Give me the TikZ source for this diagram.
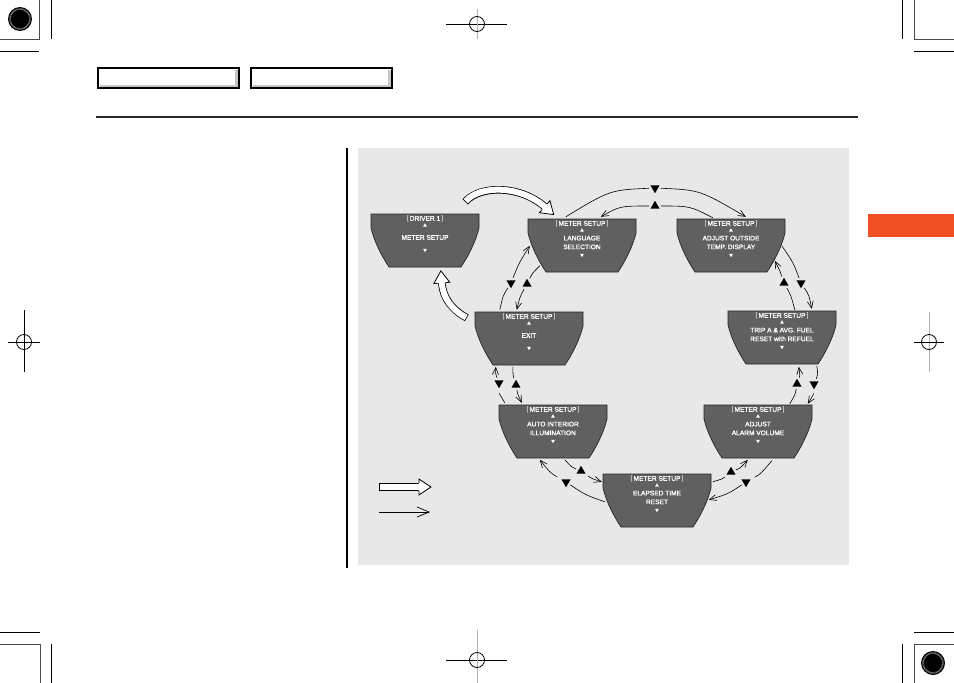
\documentclass[tikz,border=0pt]{standalone}
\usepackage{fontspec}
\newfontfamily\dispfont{Liberation Sans}[FakeBold=1.6]
\newfontfamily\dispfontreg{Liberation Sans}
\usetikzlibrary{shapes.geometric,arrows.meta,calc,decorations.markings}
\definecolor{panel}{RGB}{232,232,232}
\definecolor{dispgray}{RGB}{96,96,96}
\definecolor{tabcol}{RGB}{240,78,35}
\tikzset{
 dispbody/.style={fill=dispgray, draw=black!85, line width=0.7pt},
 dispframe/.style={rectangle, minimum width=108pt, minimum height=53pt, inner sep=0pt, draw=none},
 disptext/.style={text=white, font=\dispfont\fontsize{6.6}{8.8}\selectfont, inner sep=0pt, align=center},
 dispup/.style={regular polygon, regular polygon sides=3, fill=white, minimum size=4.4pt, inner sep=0pt},
 dispdown/.style={dispup, regular polygon rotate=180},
 ringup/.style={regular polygon, regular polygon sides=3, fill=black, minimum size=10.5pt, inner sep=0pt, outer sep=2.5pt},
 ringdown/.style={ringup, regular polygon rotate=180},
 ring/.style={line width=0.6pt, black},
 ringarrow/.style={ring, -{Straight Barb[length=7pt,width=6pt]}},
 legendarrow/.style={line width=0.7pt, -{Straight Barb[length=12pt,width=10pt]}},
 regmark/.style={line width=0.8pt, black},
}
\newcommand\msetup{{\dispfontreg[}\,METER SETUP\,{\dispfontreg]}}
\newcommand\mtrdisp[5]{%
 \begin{scope}[shift={(#2,#3)}]
  \draw[dispbody] (0,0) -- (108,0) -- (108,14) .. controls (104,30) and (96,44) .. (90,53) -- (18,53) .. controls (12,44) and (4,30) .. (0,14) -- cycle;
  \node[dispframe] (#1) at (54,26.5) {};
  \node[disptext] (#1-h) at (54,5) {#4};
  \node[dispup] (#1-u) at (54,11.5) {};
  \node[disptext] (#1-b) at (54,23.5) {#5};
  \node[dispdown] (#1-d) at (54,36) {};
 \end{scope}}
\newcommand\hollowarrow[1]{%
 \draw[line width=7.6pt, black] #1;
 \draw[line width=6pt, white, shorten <=0.8pt] #1;
 \path[decoration={markings, mark=at position 0.998 with {\fill[white] (0,-8) -- (12,0) -- (0,8) -- cycle; \draw[line width=0.8pt, black, line join=miter] (0,-3.8) -- (0,-8) -- (12,0) -- (0,8) -- (0,3.8);}}, decorate] #1;
}
\newcommand\sunburst[1]{%
 \fill[black] #1 circle (12);
 \draw[gray!70, line width=1.5pt, dash pattern=on 0.5pt off 0.7pt] #1 circle (10);
 \fill[black] #1 circle (7);
}
\begin{document}
\begin{tikzpicture}[x=1pt,y=-1pt]
\useasboundingbox (0,0) rectangle (954,683);
\fill[white] (0,0) rectangle (954,683);

% registration marks
\draw[regmark, black!70] (0,39) -- (39,39) -- (39,0);
\draw[regmark] (51,0) -- (51,39);
\draw[regmark] (0,51) -- (39,51);
\sunburst{(20,19)}
\draw[regmark] (902,0) -- (902,39);
\draw[regmark, black!70] (954,39) -- (914,39) -- (914,0);
\draw[regmark] (914,51) -- (954,51);
\draw[regmark] (0,632) -- (40,632);
\draw[regmark, black!70] (0,644) -- (40,644) -- (40,683);
\draw[regmark] (51,644) -- (51,683);
\draw[regmark] (914,632) -- (954,632);
\draw[regmark, black!70] (954,644) -- (914,644) -- (914,683);
\draw[regmark] (902,644) -- (902,683);
\sunburst{(933,663)}
% crosshairs
\draw[regmark] (446,24) -- (507,24);
\draw[regmark, gray!60] (477,9) -- (477,39);
\draw[regmark] (477,24) circle (7.5);
\draw[regmark] (24,310) -- (24,372);
\draw[regmark] (8,342) -- (40,342);
\draw[regmark] (24,342) circle (7.5);
\draw[regmark, gray!60] (929,312) -- (929,372);
\draw[regmark] (914,342) -- (944,342);
\draw[regmark] (929,342) circle (7.5);
\draw[regmark] (446,660) -- (507,660);
\draw[regmark, gray!60] (477,630) -- (477,683);
\draw[regmark] (477,660) circle (7.5);

% header
\draw[line width=1.6pt] (98,68) rectangle (239,88);
\fill[gray!45] (235,69.5) rectangle (237.6,86.6);
\fill[gray!45] (99.5,84.5) rectangle (237.6,86.6);
\draw[line width=1.6pt] (251,68) rectangle (392,88);
\fill[gray!45] (388,69.5) rectangle (390.6,86.6);
\fill[gray!45] (252.5,84.5) rectangle (390.6,86.6);
\draw[line width=1.2pt, black!85] (96,117) -- (858,117);
\fill[tabcol] (868,214) rectangle (954,237);

% panel
\fill[panel] (358,148) rectangle (849,565);
\draw[line width=1.6pt] (347,148) -- (347,568);

% displays
\mtrdisp{drv}{371}{214}{{\dispfontreg[}\,DRIVER 1\,{\dispfontreg]}}{METER SETUP}
\mtrdisp{lang}{528}{219}{\msetup}{LANGUAGE\\SELECTION}
\mtrdisp{temp}{677}{219}{\msetup}{ADJUST OUTSIDE\\TEMP. DISPLAY}
\mtrdisp{trip}{728}{311}{\msetup}{TRIP A \& AVG. FUEL\\RESET with REFUEL}
\mtrdisp{alarm}{704}{405}{\msetup}{ADJUST\\ALARM VOLUME}
\mtrdisp{elap}{603}{474}{\msetup}{ELAPSED TIME\\RESET}
\mtrdisp{auto}{499}{405}{\msetup}{AUTO INTERIOR\\ILLUMINATION}
\mtrdisp{exit}{475}{312}{\msetup}{EXIT}

% hollow arrows
\coordinate (h1s) at ($(drv.north east)+(-14,-12)$);
\coordinate (h1e) at ($(lang.north west)+(17,-12)$);
\hollowarrow{(h1s) .. controls (480,185) and (520,185) .. (h1e)}
\coordinate (h2s) at ($(exit.north west)+(-8,6)$);
\coordinate (h2e) at ($(drv.north west)+(71,69)$);
\hollowarrow{(h2s) .. controls (452,310) and (443,298) .. (h2e)}

% ring connectors
\coordinate (c1s) at ($(lang.north west)+(38,-2)$);
\coordinate (c1e) at ($(temp.north west)+(69,-2)$);
\node[ringdown] (t1) at (655,188) {};
\draw[ring] (c1s) .. controls (610,190) .. (t1);
\draw[ringarrow] (t1) .. controls (700,190) .. (c1e);

\coordinate (c2s) at ($(temp.north west)+(36,-1)$);
\coordinate (c2e) at ($(lang.north west)+(73,-2)$);
\node[ringup] (t2) at (655,206) {};
\draw[ring] (c2s) .. controls (690,206) .. (t2);
\draw[ringarrow] (t2) .. controls (620,206) .. (c2e);

\coordinate (c3s) at ($(temp.north west)+(105,27)$);
\coordinate (c3e) at ($(trip.north west)+(84,-2)$);
\node[ringdown] (t3) at (801,283) {};
\draw[ring] (c3s) .. controls (793,262) .. (t3);
\draw[ringarrow] (t3) .. controls (809,295) .. (c3e);

\coordinate (c4s) at ($(trip.north west)+(67,-1)$);
\coordinate (c4e) at ($(temp.north west)+(98,42)$);
\node[ringup] (t4) at (784,283) {};
\draw[ring] (c4s) .. controls (791,295.5) .. (t4);
\draw[ringarrow] (t4) .. controls (780,271) .. (c4e);

\coordinate (c5s) at ($(trip.north west)+(89,55)$);
\coordinate (c5e) at ($(alarm.north west)+(104,-1)$);
\node[ringdown] (t5) at (814,384) {};
\draw[ring] (c5s) .. controls (818,375) .. (t5);
\draw[ringarrow] (t5) .. controls (813.5,394.5) .. (c5e);

\coordinate (c6s) at ($(alarm.north west)+(86,-1)$);
\coordinate (c6e) at ($(trip.north west)+(71,56)$);
\node[ringup] (t6) at (797,384) {};
\draw[ring] (c6s) .. controls (795.5,394) .. (t6);
\draw[ringarrow] (t6) .. controls (800,375.5) .. (c6e);

\coordinate (c7s) at ($(alarm.north west)+(68,56)$);
\coordinate (c7e) at ($(elap.north west)+(106,26)$);
\node[ringdown] (t7) at (746,482) {};
\draw[ring] (c7s) .. controls (760.5,474) .. (t7);
\draw[ringarrow] (t7) .. controls (728,494) .. (c7e);

\coordinate (c8s) at ($(elap.north west)+(110,8)$);
\coordinate (c8e) at ($(alarm.north west)+(44,55)$);
\node[ringup] (t8) at (731,472) {};
\draw[ring] (c8s) .. controls (723,478.7) .. (t8);
\draw[ringarrow] (t8) .. controls (740.5,468) .. (c8e);

\coordinate (c9s) at ($(elap.north west)+(2,28)$);
\coordinate (c9e) at ($(auto.north west)+(41,55)$);
\node[ringdown] (t9) at (566,482) {};
\draw[ring] (c9s) .. controls (585.5,495) .. (t9);
\draw[ringarrow] (t9) .. controls (550.5,473) .. (c9e);

\coordinate (c10s) at ($(auto.north west)+(66,55)$);
\coordinate (c10e) at ($(elap.north west)+(-1,8)$);
\node[ringup] (t10) at (581,471) {};
\draw[ring] (c10s) .. controls (572,467.5) .. (t10);
\draw[ringarrow] (t10) .. controls (591.5,478.5) .. (c10e);

\coordinate (c11s) at ($(auto.north west)+(6,-2)$);
\coordinate (c11e) at ($(exit.north west)+(21,55)$);
\node[ringdown] (t11) at (499,383) {};
\draw[ring] (c11s) .. controls (499,393) .. (t11);
\draw[ringarrow] (t11) .. controls (495.5,374) .. (c11e);

\coordinate (c12s) at ($(exit.north west)+(38,55)$);
\coordinate (c12e) at ($(auto.north west)+(23,-2)$);
\node[ringup] (t12) at (516,385) {};
\draw[ring] (c12s) .. controls (513,375.5) .. (t12);
\draw[ringarrow] (t12) .. controls (517.5,394) .. (c12e);

\coordinate (c13s) at ($(exit.north west)+(25,-2)$);
\coordinate (c13e) at ($(lang.north west)+(2,27)$);
\node[ringdown] (t13) at (511,283) {};
\draw[ring] (c13s) .. controls (503,295.5) .. (t13);
\draw[ringarrow] (t13) .. controls (519,263) .. (c13e);

\coordinate (c14s) at ($(lang.north west)+(12,47)$);
\coordinate (c14e) at ($(exit.north west)+(42,-2)$);
\node[ringup] (t14) at (527,284) {};
\draw[ring] (c14s) .. controls (532.5,273) .. (t14);
\draw[ringarrow] (t14) .. controls (520,296.5) .. (c14e);

% legend
\coordinate (lg1s) at (379,487);
\coordinate (lg1e) at (419,487);
\hollowarrow{(lg1s) -- (lg1e)}
\coordinate (lg2s) at (379,512);
\coordinate (lg2e) at (430,512);
\draw[legendarrow] (lg2s) -- (lg2e);
\end{tikzpicture}
\end{document}
